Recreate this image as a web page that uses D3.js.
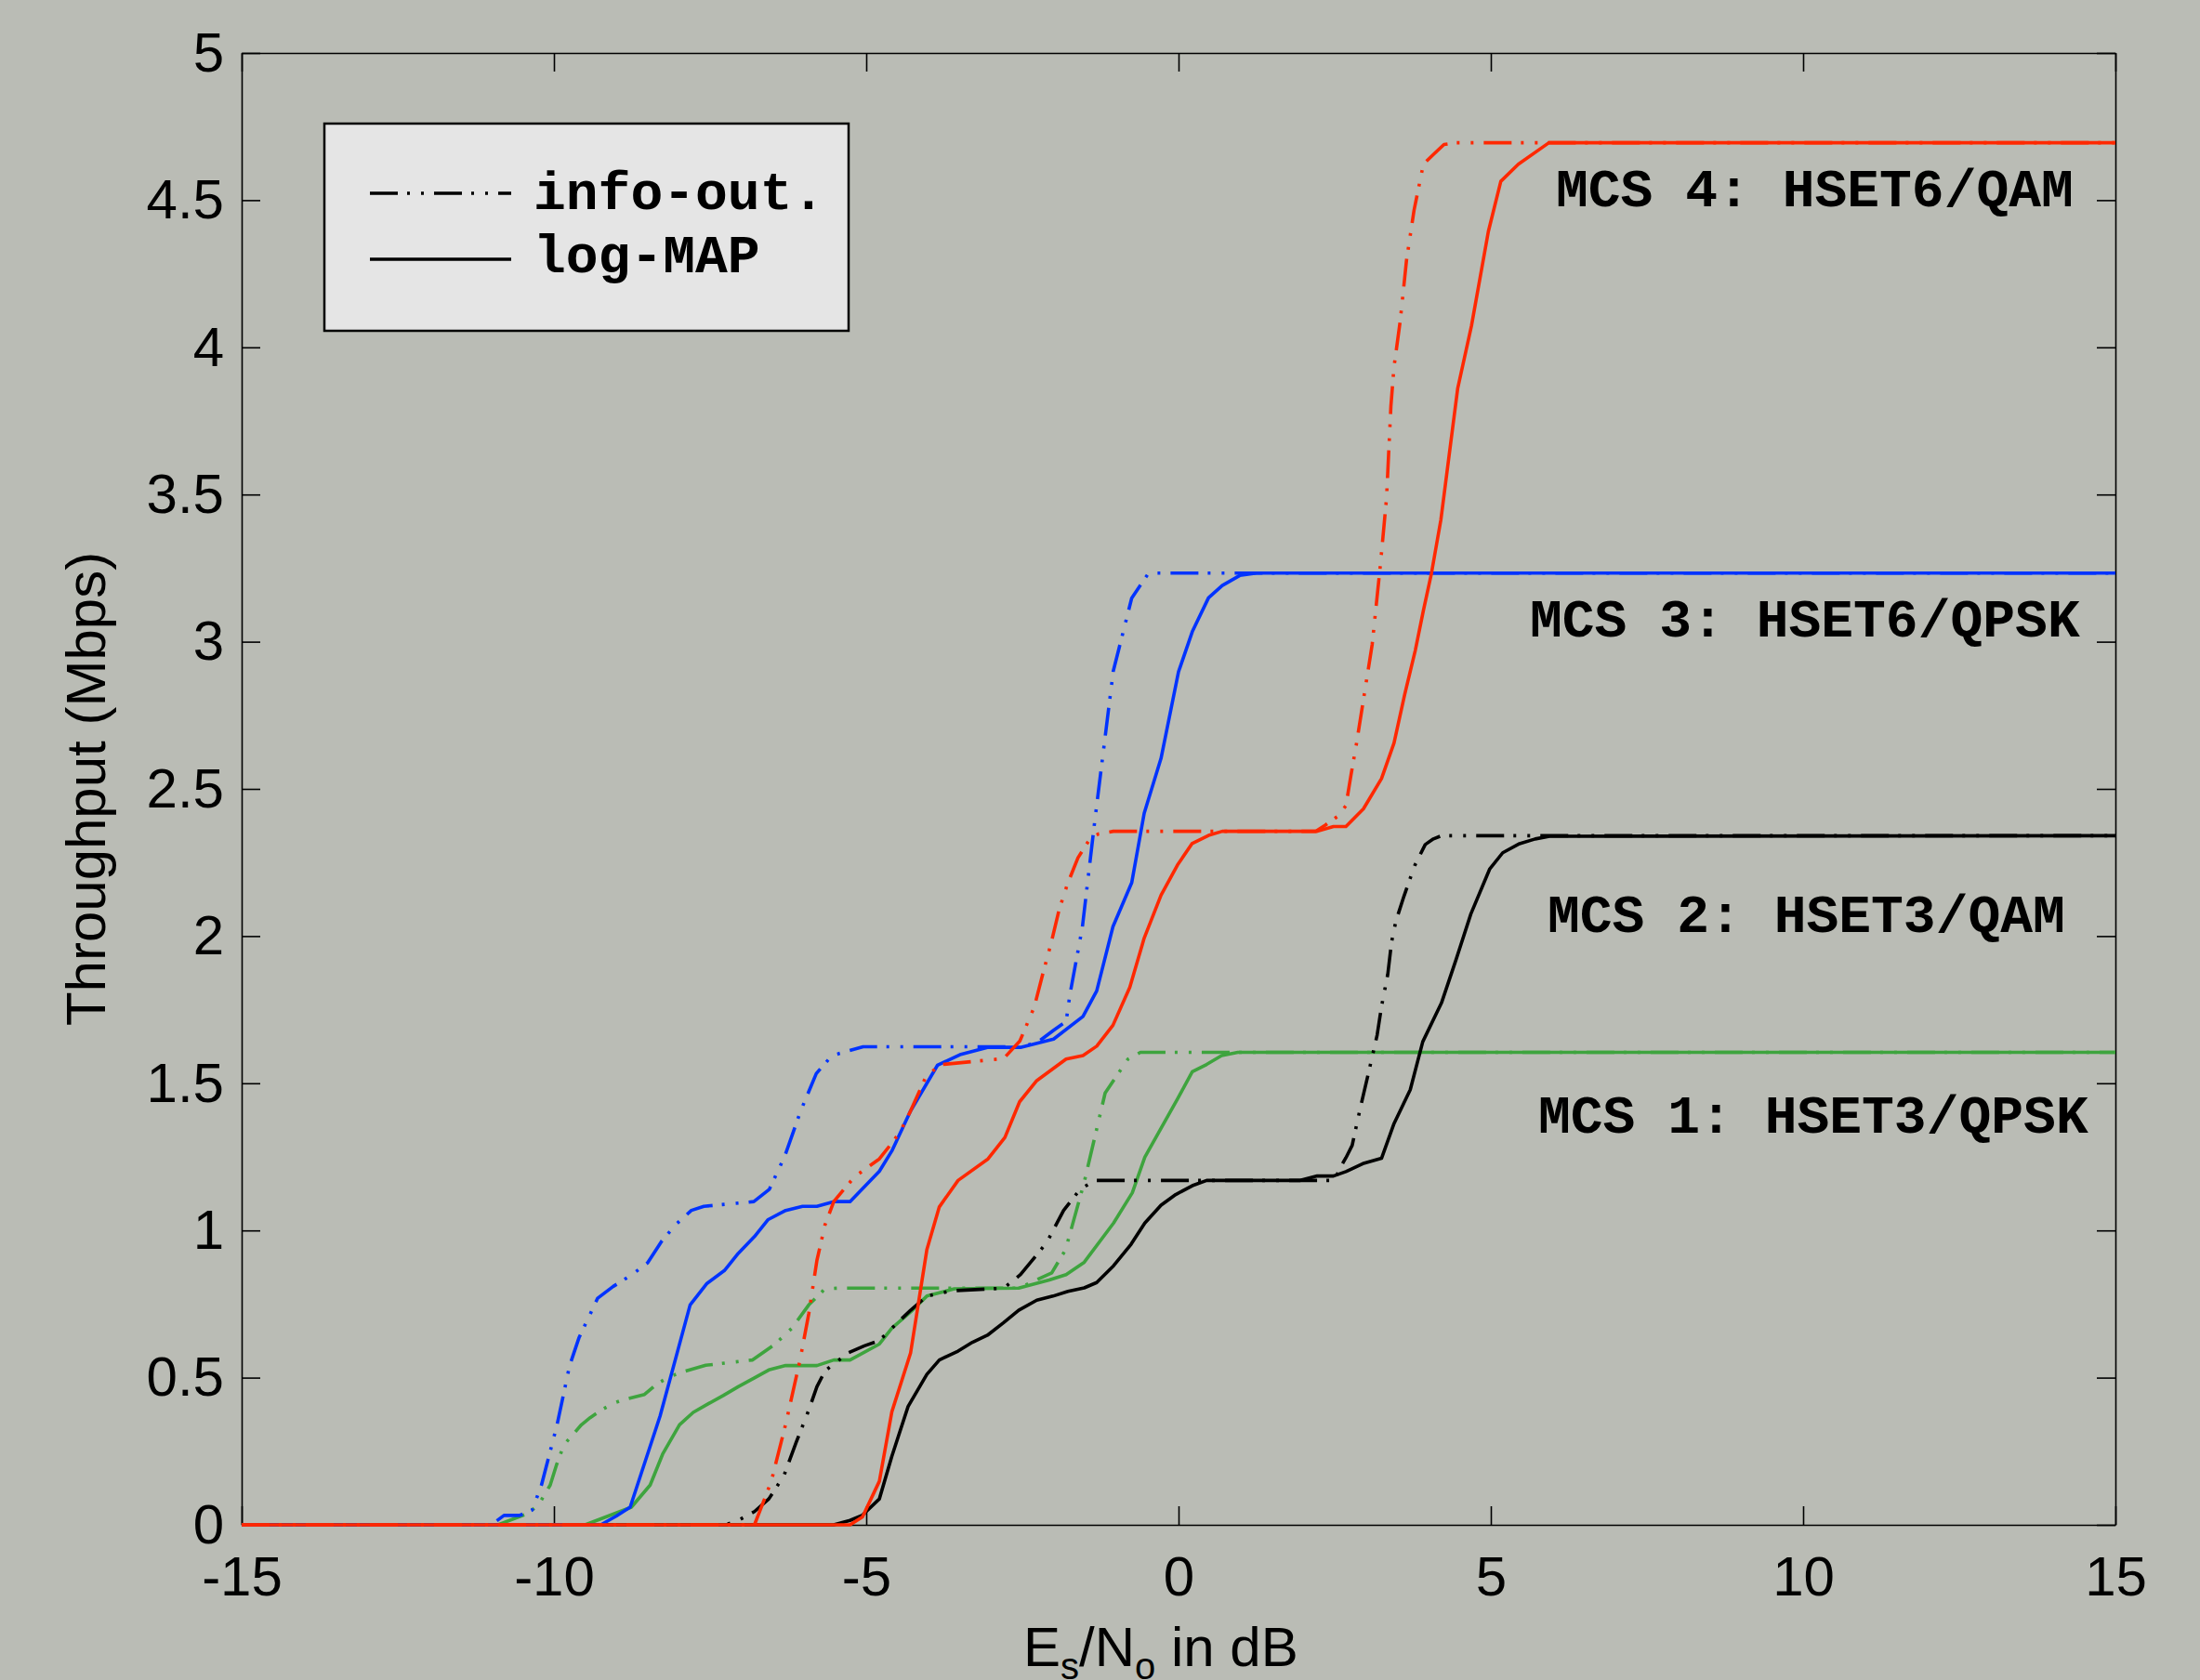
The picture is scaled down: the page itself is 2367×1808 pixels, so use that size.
<!DOCTYPE html>
<html>
<head>
<meta charset="utf-8">
<script src="https://cdn.jsdelivr.net/npm/d3@7"></script>
<style>
body{margin:0;background:#babcb5;}
</style>
</head>
<body>
<div class="chart"></div>
<script>
// MCS 1 (green)
const mcs1InfoX = [-15,-10.9,-10.4,-10.23,-10.06,-9.96,-9.84,-9.69,-9.56,-9.42,-9.24,-9.05,-8.87,-8.55,-8.35,-8.15,-7.95,-7.57,-6.82,-6.46,-6.19,-5.92,-5.66,-5.46,-2.56,-2.03,-1.81,-1.51,-1.175,-0.81,-0.61,15];
const mcs1InfoY = [0,0,0.04,0.074,0.135,0.203,0.272,0.308,0.34,0.364,0.39,0.413,0.426,0.443,0.479,0.503,0.519,0.542,0.56,0.614,0.668,0.747,0.802,0.804,0.804,0.856,0.934,1.164,1.467,1.582,1.605,1.605];
const mcs1MapX = [-15,-9.5,-9.13,-8.76,-8.46,-8.26,-7.99,-7.77,-7.54,-7.29,-7.05,-6.79,-6.56,-6.29,-5.79,-5.52,-5.26,-4.79,-4.59,-4.29,-4.03,-3.59,-2.56,-2.07,-1.8,-1.51,-1.04,-0.74,-0.54,-0.01,0.22,0.45,0.69,0.95,15];
const mcs1MapY = [0,0,0.03,0.06,0.135,0.24,0.34,0.382,0.41,0.439,0.469,0.499,0.526,0.541,0.541,0.56,0.56,0.614,0.668,0.723,0.777,0.802,0.804,0.832,0.85,0.892,1.025,1.128,1.249,1.449,1.539,1.564,1.594,1.605,1.605];

// MCS 2 (black)
const mcs2InfoX = [-15,-7.25,-7.05,-6.79,-6.56,-6.32,-6.12,-5.92,-5.79,-5.66,-5.29,-5.03,-4.79,-4.56,-4.29,-4.03,-3.63,-2.8,-2.53,-2.11,-1.84,-1.575,-1.34,2.5,2.58,2.68,2.78,2.91,3.05,3.18,3.25,3.35,3.41,3.48,3.61,3.78,3.95,4.08,4.21,15];
const mcs2InfoY = [0,0,0.015,0.045,0.088,0.166,0.281,0.39,0.469,0.523,0.584,0.608,0.626,0.674,0.729,0.777,0.795,0.804,0.85,0.959,1.068,1.14,1.17,1.17,1.21,1.247,1.289,1.416,1.543,1.664,1.761,1.87,1.979,2.051,2.136,2.239,2.311,2.33,2.341,2.341];
const mcs2MapX = [-15,-5.52,-5.26,-5.06,-4.79,-4.59,-4.33,-4.03,-3.83,-3.53,-3.3,-3.06,-2.8,-2.56,-2.27,-2.01,-1.77,-1.51,-1.31,-1.04,-0.76,-0.54,-0.28,-0.045,0.22,0.45,1.95,2.22,2.48,2.68,2.95,3.25,3.45,3.71,3.91,4.21,4.44,4.68,4.98,5.19,5.46,5.71,5.94,15];
const mcs2MapY = [0,0,0.015,0.033,0.088,0.233,0.402,0.511,0.56,0.59,0.62,0.644,0.687,0.729,0.763,0.777,0.793,0.805,0.823,0.88,0.953,1.025,1.086,1.122,1.152,1.17,1.17,1.185,1.185,1.2,1.227,1.245,1.363,1.478,1.641,1.773,1.918,2.075,2.227,2.283,2.314,2.33,2.339,2.341];

// MCS 3 (blue)
const mcs3InfoX = [-15,-11,-10.8,-10.55,-10.35,-10.2,-9.95,-9.75,-9.6,-9.3,-9.05,-8.75,-8.5,-8.27,-8.05,-7.8,-7.6,-6.8,-6.55,-6.3,-6.05,-5.8,-5.55,-5.05,-2.5,-2.25,-2.0,-1.8,-1.74,-1.54,-1.34,-1.045,-0.75,-0.48,15];
const mcs3InfoY = [0,0,0.032,0.032,0.05,0.135,0.34,0.54,0.635,0.77,0.81,0.85,0.89,0.965,1.02,1.068,1.082,1.098,1.14,1.255,1.406,1.533,1.594,1.624,1.624,1.64,1.68,1.71,1.8,2.03,2.393,2.9,3.148,3.233,3.233];
const mcs3MapX = [-15,-9.25,-9.0,-8.78,-8.3,-7.82,-7.55,-7.27,-7.05,-6.79,-6.57,-6.29,-6.02,-5.79,-5.52,-5.26,-4.79,-4.59,-4.29,-3.86,-3.5,-3.06,-2.53,-2.0,-1.53,-1.31,-1.05,-0.75,-0.55,-0.28,0.0,0.22,0.48,0.7,0.98,1.25,15];
const mcs3MapY = [0,0,0.03,0.06,0.37,0.747,0.82,0.864,0.922,0.979,1.037,1.068,1.082,1.082,1.098,1.098,1.201,1.27,1.406,1.561,1.597,1.622,1.622,1.65,1.727,1.814,2.032,2.181,2.417,2.604,2.898,3.034,3.149,3.191,3.225,3.233,3.233];

// MCS 4 (red)
const mcs4InfoX = [-15,-6.79,-6.65,-6.52,-6.29,-6.06,-5.92,-5.79,-5.66,-5.52,-5.19,-4.79,-4.59,-4.46,-4.29,-4.06,-3.83,-2.8,-2.54,-2.31,-2.17,-2.04,-1.91,-1.78,-1.61,-1.41,-1.28,-1.045,2.2,2.35,2.55,2.68,2.76,2.85,3.1,3.23,3.33,3.4,3.45,3.55,3.65,3.77,3.92,4.1,4.25,4.44,15];
const mcs4InfoY = [0,0,0.076,0.148,0.342,0.56,0.717,0.898,1.019,1.098,1.182,1.243,1.297,1.334,1.406,1.515,1.563,1.584,1.644,1.759,1.874,1.976,2.091,2.176,2.266,2.333,2.347,2.356,2.356,2.377,2.407,2.443,2.546,2.655,2.99,3.257,3.487,3.8,3.934,4.091,4.296,4.465,4.622,4.659,4.689,4.695,4.695];
const mcs4MapX = [-15,-5.26,-5.06,-4.79,-4.59,-4.29,-4.03,-3.83,-3.53,-3.05,-2.78,-2.545,-2.27,-1.8,-1.53,-1.31,-1.05,-0.78,-0.55,-0.28,-0.018,0.215,0.48,0.7,2.22,2.48,2.68,2.96,3.25,3.45,3.62,3.79,3.92,4.05,4.2,4.47,4.69,4.96,5.16,5.44,5.93,15];
const mcs4MapY = [0,0,0.027,0.148,0.384,0.584,0.934,1.08,1.17,1.243,1.316,1.437,1.509,1.582,1.594,1.626,1.697,1.826,1.993,2.139,2.241,2.314,2.342,2.356,2.356,2.372,2.372,2.432,2.535,2.656,2.82,2.97,3.106,3.233,3.414,3.861,4.073,4.393,4.564,4.622,4.695,4.695];

const xTicks = [-15,-10,-5,0,5,10,15];
const yTicks = [0,0.5,1,1.5,2,2.5,3,3.5,4,4.5,5];
const legendLabels = ["info-out.","log-MAP"];
const mcsLabels = ["MCS 4: HSET6/QAM","MCS 3: HSET6/QPSK","MCS 2: HSET3/QAM","MCS 1: HSET3/QPSK"];

const zip = (xs,ys) => xs.map((x,i)=>({x:x, y:ys[i]}));
const dashDot = "30,10,3,12,3,11";

const series = [
    {pts: zip(mcs1InfoX,mcs1InfoY), color:"#3ea43e", dash:dashDot},
    {pts: zip(mcs1MapX,mcs1MapY), color:"#3ea43e", dash:null},
    {pts: zip(mcs2InfoX,mcs2InfoY), color:"#000000", dash:dashDot},
    {pts: zip(mcs2MapX,mcs2MapY), color:"#000000", dash:null},
    {pts: zip(mcs3InfoX,mcs3InfoY), color:"#0033ff", dash:dashDot},
    {pts: zip(mcs3MapX,mcs3MapY), color:"#0033ff", dash:null},
    {pts: zip(mcs4InfoX,mcs4InfoY), color:"#ff2800", dash:dashDot},
    {pts: zip(mcs4MapX,mcs4MapY), color:"#ff2800", dash:null}
];

const W = 2367, H = 1808;
const margin = {top:57, left:260, right:91, bottom:167};

const svg = d3.select(".chart").append("svg")
    .attr("width", W)
    .attr("height", H)
    .style("display","block");

svg.append("rect")
    .attr("width", W)
    .attr("height", H)
    .attr("fill", "#babcb5");

const xScale = d3.scaleLinear()
    .domain([-15,15])
    .range([margin.left, W - margin.right]);
const yScale = d3.scaleLinear()
    .domain([0,5])
    .range([H - margin.bottom, margin.top]);

const tickFont = "'Liberation Sans', Arial, Helvetica, sans-serif";
const monoFont = "'Liberation Mono', 'Courier New', monospace";

const xAxis = d3.axisBottom(xScale)
    .tickValues(xTicks)
    .tickFormat(d=>String(d))
    .tickSizeInner(-20)
    .tickSizeOuter(0)
    .tickPadding(33);
const yAxis = d3.axisLeft(yScale)
    .tickValues(yTicks)
    .tickFormat(d=>String(d))
    .tickSizeInner(-20)
    .tickSizeOuter(0)
    .tickPadding(19);

svg.append("g")
    .attr("class","axis x-axis")
    .attr("transform", `translate(0, ${yScale(0)})`)
    .call(xAxis);
svg.append("g")
    .attr("class","axis y-axis")
    .attr("transform", `translate(${xScale(-15)}, 0)`)
    .call(yAxis);
svg.append("g")
    .attr("class","axis top-axis")
    .attr("transform", `translate(0, ${yScale(5)})`)
    .call(d3.axisTop(xScale).tickValues(xTicks).tickFormat("").tickSizeInner(-20).tickSizeOuter(0));
svg.append("g")
    .attr("class","axis right-axis")
    .attr("transform", `translate(${xScale(15)}, 0)`)
    .call(d3.axisRight(yScale).tickValues(yTicks).tickFormat("").tickSizeInner(-20).tickSizeOuter(0));

svg.selectAll(".axis path, .axis line")
    .attr("stroke","#000")
    .attr("stroke-width",1.6);
svg.selectAll(".axis text")
    .attr("font-family", tickFont)
    .attr("font-size", 60)
    .attr("fill","#000");

const line = d3.line()
    .x(d=>xScale(d.x))
    .y(d=>yScale(d.y));

svg.selectAll(".curve")
    .data(series)
    .enter()
    .append("path")
    .attr("class","curve")
    .attr("d", d=>line(d.pts))
    .attr("fill","none")
    .attr("stroke", d=>d.color)
    .attr("stroke-width",3.6)
    .attr("stroke-linejoin","round")
    .attr("stroke-dasharray", d=>d.dash);

// MCS annotations
const labelPos = [[1674,222],[1646,685],[1665,1003],[1655,1219]];
svg.selectAll(".mcs-label")
    .data(mcsLabels)
    .enter()
    .append("text")
    .attr("class","mcs-label")
    .attr("x",(d,i)=>labelPos[i][0])
    .attr("y",(d,i)=>labelPos[i][1])
    .attr("font-family", monoFont)
    .attr("font-weight","bold")
    .attr("font-size",58)
    .attr("xml:space","preserve")
    .style("white-space","pre")
    .text(d=>d);

// legend
const legend = svg.append("g");
legend.append("rect")
    .attr("x",349)
    .attr("y",133)
    .attr("width",564)
    .attr("height",223)
    .attr("fill","#e5e5e5")
    .attr("stroke","#000")
    .attr("stroke-width",2.5);

legend.selectAll(".legend-line")
    .data(legendLabels)
    .enter()
    .append("line")
    .attr("class","legend-line")
    .attr("x1",398)
    .attr("x2",550)
    .attr("y1",(d,i)=>208+i*71)
    .attr("y2",(d,i)=>208+i*71)
    .attr("stroke","#000")
    .attr("stroke-width",3.4)
    .attr("stroke-dasharray",(d,i)=>i==0 ? dashDot : null);

legend.selectAll(".legend-label")
    .data(legendLabels)
    .enter()
    .append("text")
    .attr("class","legend-label")
    .attr("x",574)
    .attr("y",(d,i)=>225+i*68)
    .attr("font-family", monoFont)
    .attr("font-weight","bold")
    .attr("font-size",58)
    .text(d=>d);

// axis labels
const xl = svg.append("text")
    .attr("x",1101)
    .attr("y",1793)
    .attr("font-family", tickFont)
    .attr("font-size",60);
xl.append("tspan").text("E");
xl.append("tspan").attr("font-size",40).attr("dy",14).text("s");
xl.append("tspan").attr("dy",-14).text("/N");
xl.append("tspan").attr("font-size",40).attr("dy",14).text("o");
xl.append("tspan").attr("dy",-14).text(" in dB");

svg.append("text")
    .attr("transform","translate(113,849) rotate(-90)")
    .attr("text-anchor","middle")
    .attr("font-family", tickFont)
    .attr("font-size",60)
    .text("Throughput (Mbps)");
</script>
</body>
</html>
